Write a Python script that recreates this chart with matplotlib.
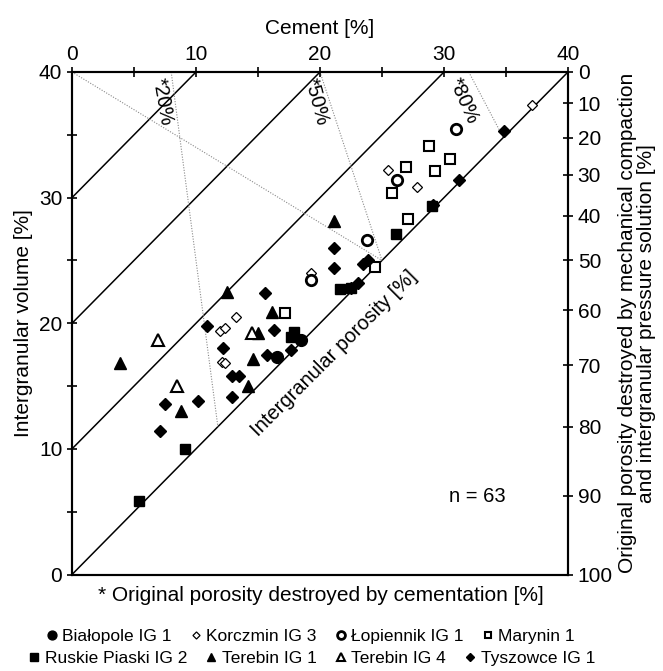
import numpy as np
import matplotlib.pyplot as plt
from matplotlib.lines import Line2D

plt.rcParams['font.family'] = ['Liberation Sans', 'DejaVu Sans']

# -----------------------------
# Data: cement [%] (x) vs intergranular volume [%] (y)
# -----------------------------
bialopole_cem = [18.5, 16.5]
bialopole_igv = [18.7, 17.35]

korczmin_cem = [37.1, 25.5, 27.85, 19.3, 13.2, 11.9, 12.3, 12.1, 12.3]
korczmin_igv = [37.4, 32.2, 30.85, 24.0, 20.5, 19.35, 19.6, 16.9, 16.8]

lopiennik_cem = [31.0, 26.2, 23.8, 19.3]
lopiennik_igv = [35.5, 31.4, 26.6, 23.45]

marynin_cem = [28.8, 30.5, 26.9, 29.3, 25.8, 27.1, 24.4, 17.2]
marynin_igv = [34.1, 33.05, 32.4, 32.1, 30.4, 28.3, 24.5, 20.8]

ruskie_cem = [29.0, 26.1, 21.6, 22.5, 17.9, 17.7, 9.1, 5.4]
ruskie_igv = [29.3, 27.1, 22.7, 22.8, 19.3, 18.9, 10.0, 5.85]

terebin1_cem = [21.1, 12.5, 16.15, 15.0, 14.6, 14.2, 3.9, 8.8]
terebin1_igv = [28.1, 22.45, 20.9, 19.2, 17.15, 15.0, 16.8, 13.05]

terebin4_cem = [6.9, 8.5, 14.5]
terebin4_igv = [18.7, 15.0, 19.2]

tyszowce_cem = [34.8, 31.2, 29.1, 21.1, 21.1, 23.5, 23.9, 23.1, 15.6, 10.9, 16.3,
                17.7, 12.2, 15.7, 12.9, 13.5, 12.9, 10.2, 7.5, 7.1, 22.5]
tyszowce_igv = [35.3, 31.4, 29.4, 26.0, 24.4, 24.7, 25.0, 23.2, 22.4, 19.75, 19.5,
                17.9, 18.0, 17.5, 15.8, 15.8, 14.1, 13.8, 13.55, 11.45, 22.8]

# reference lines
P0 = 40.0                          # original porosity
porosity_levels = [0, 10, 20, 30]  # intergranular porosity lines
cepl_levels = [20, 50, 80]         # % of original porosity destroyed by cementation
copl_ticks = np.arange(0, 101, 10) # % of original porosity destroyed by compaction


def igv_from_copl(frac):
    # Lundegard (1992): COPL = P0 - (100 - P0) * IGV / (100 - IGV)
    copl = P0 * np.asarray(frac, dtype=float) / 100
    return 100 * (P0 - copl) / (100 - copl)


FS = 15

fig = plt.figure(figsize=(6.63, 6.71), dpi=100)
ax = fig.add_axes([0.1086, 0.1438, 0.7481, 0.7489])
ax.set_xlim(0, 40)
ax.set_ylim(0, 40)

# solid lines: intergranular porosity = IGV - cement
for p in porosity_levels:
    xs = np.array([0, 40 - p])
    ax.plot(xs, xs + p, color='black', lw=1.1, zorder=1)

# dotted lines: constant cementational porosity loss
dot_kw = dict(color='#8a8a8a', lw=0.8, ls=(0, (1, 1.4)), zorder=1)
for f in cepl_levels:
    cepl = f / 100 * P0
    igv = np.array([P0, igv_from_copl(100 - f)])
    cem = cepl * (100 - igv) / (100 - P0)
    ax.plot(cem, igv, **dot_kw)
# COPL = CEPL line
igv = np.array([P0, igv_from_copl(50)])
cem = (P0 * (100 - igv) - (100 - P0) * igv) / (100 - P0)
ax.plot(cem, igv, **dot_kw)

# labels of dotted lines
ax.text(7.3, 37.6, '*20%', rotation=-80, ha='center', va='center', fontsize=FS - 0.5)
ax.text(19.7, 37.6, '*50%', rotation=-75, ha='center', va='center', fontsize=FS - 0.5)
ax.text(31.6, 37.7, '*80%', rotation=-66, ha='center', va='center', fontsize=FS - 0.5)
ax.text(21.1, 17.6, 'Intergranular porosity [%]', rotation=45, ha='center', va='center',
        fontsize=FS - 0.5)
ax.text(32.7, 6.2, 'n = 63', ha='center', va='center', fontsize=FS - 0.5)

# data series
styles = [
    ('Białopole IG 1', bialopole_cem, bialopole_igv, dict(marker='o', ms=8.5, mfc='black', mec='black')),
    ('Korczmin IG 3', korczmin_cem, korczmin_igv, dict(marker='D', ms=4.8, mfc='white', mec='black', mew=0.9)),
    ('Łopiennik IG 1', lopiennik_cem, lopiennik_igv, dict(marker='o', ms=7.5, mfc='white', mec='black', mew=2.0)),
    ('Marynin 1', marynin_cem, marynin_igv, dict(marker='s', ms=6.5, mfc='white', mec='black', mew=1.5)),
    ('Ruskie Piaski IG 2', ruskie_cem, ruskie_igv, dict(marker='s', ms=6.8, mfc='black', mec='black')),
    ('Terebin IG 1', terebin1_cem, terebin1_igv, dict(marker='^', ms=8, mfc='black', mec='black')),
    ('Terebin IG 4', terebin4_cem, terebin4_igv, dict(marker='^', ms=8, mfc='white', mec='black', mew=1.5)),
    ('Tyszowce IG 1', tyszowce_cem, tyszowce_igv, dict(marker='D', ms=6, mfc='black', mec='black')),
]
handles = []
for name, xs, ys, kw in styles:
    ax.plot(xs, ys, ls='none', zorder=3, **kw)
    handles.append(Line2D([], [], ls='none', label=name, **kw))

# axes
ax.xaxis.tick_top()
ax.xaxis.set_label_position('top')
ax.set_xticks([0, 10, 20, 30, 40])
ax.set_xticks([5, 15, 25, 35], minor=True)
ax.set_yticks([0, 10, 20, 30, 40])
ax.set_yticks([5, 15, 25, 35], minor=True)
ax.tick_params(which='both', direction='inout', length=7, width=1.2, labelsize=FS)
ax.tick_params(axis='x', pad=2)
ax.set_xlabel('Cement [%]', fontsize=FS, labelpad=8)
ax.set_ylabel('Intergranular volume [%]', fontsize=FS, labelpad=4)

# right axis: compaction loss, non-linear in IGV
ax2 = ax.twinx()
ax2.set_ylim(0, 40)
ax2.set_yticks(igv_from_copl(copl_ticks))
ax2.set_yticklabels([str(v) for v in copl_ticks])
ax2.tick_params(direction='inout', length=7, width=1.2, labelsize=FS)
ax2.set_ylabel('Original porosity destroyed by mechanical compaction\n'
               'and intergranular pressure solution [%]', fontsize=FS,
               multialignment='center', labelpad=4, linespacing=1.0)
for a in (ax, ax2):
    for s in a.spines.values():
        s.set_linewidth(1.5)

fig.text(0.484, 0.1118, '* Original porosity destroyed by cementation [%]',
         ha='center', va='center', fontsize=FS)

# legend in two independent rows
leg_kw = dict(frameon=False, fontsize=12.5, handletextpad=0.1, columnspacing=0.9,
              handlelength=1.0, markerscale=0.75, loc='center')
fig.legend(handles=handles[:4], ncol=4, bbox_to_anchor=(0.466, 0.052), **leg_kw)
fig.legend(handles=handles[4:], ncol=4, bbox_to_anchor=(0.468, 0.019), **leg_kw)

fig.savefig('out.png', dpi=100)
